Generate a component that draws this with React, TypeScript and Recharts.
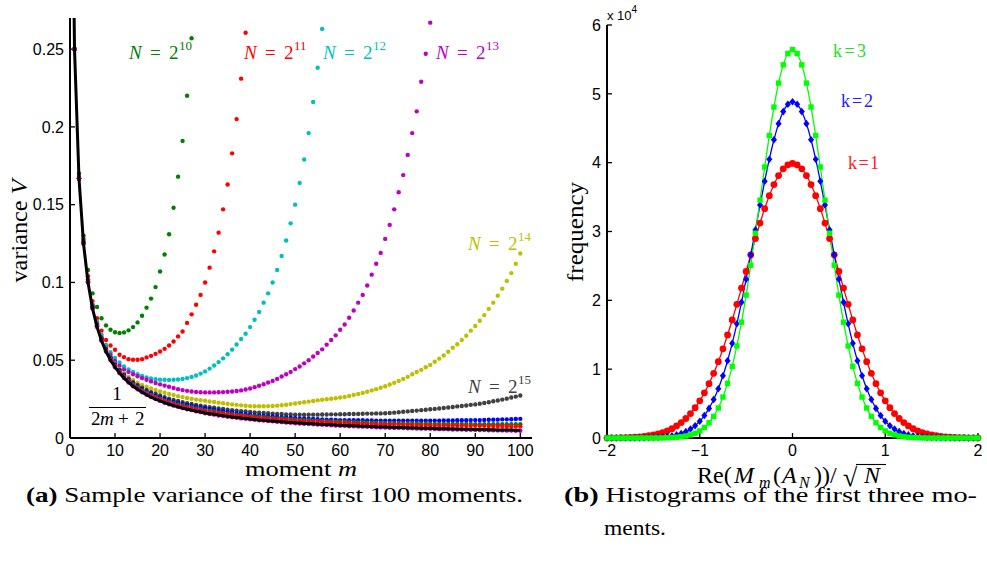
import React from 'react';
import { ComposedChart, Line, Scatter, XAxis, YAxis } from 'recharts';

// ---------- (a) sample variance, one value per moment m = 1, 2, 3, ...
// the black bound 1/(2m+2), m = 0..100
const bound = [
  .5000, .2500, .1667, .1250, .1000, .0833, .0714, .0625, .0556, .0500,
  .0455, .0417, .0385, .0357, .0333, .0313, .0294, .0278, .0263, .0250,
  .0238, .0227, .0217, .0208, .0200, .0192, .0185, .0179, .0172, .0167,
  .0161, .0156, .0152, .0147, .0143, .0139, .0135, .0132, .0128, .0125,
  .0122, .0119, .0116, .0114, .0111, .0109, .0106, .0104, .0102, .0100,
  .0098, .0096, .0094, .0093, .0091, .0089, .0088, .0086, .0085, .0083,
  .0082, .0081, .0079, .0078, .0077, .0076, .0075, .0074, .0072, .0071,
  .0070, .0069, .0068, .0068, .0067, .0066, .0065, .0064, .0063, .0063,
  .0062, .0061, .0060, .0060, .0059, .0058, .0058, .0057, .0056, .0056,
  .0055, .0054, .0054, .0053, .0053, .0052, .0052, .0051, .0051, .0050,
  .0050,
];

const var2e10 = [
  .250, .170, .130, .108, .093, .0842, .077, .0724, .0696, .068,
  .0675, .0679, .0692, .0713, .0743, .0786, .0838, .0896, .097, .107,
  .118, .131, .148, .168, .191, .220, .257,
];

const var2e11 = [
  .250, .168, .128, .104, .088, .077, .069, .063, .0595, .0567,
  .0535, .052, .0507, .0503, .0503, .0507, .0518, .0528, .0541, .0556,
  .0573, .0595, .062, .0653, .0685, .074, .0795, .0857, .092, .100,
  .1095, .120, .132, .147, .163, .183, .205, .231, .2605,
];

const var2e12 = [
  .250, .167, .127, .102, .086, .075, .0665, .060, .0552, .0515,
  .0485, .046, .044, .0424, .041, .0399, .039, .0383, .0378, .0375,
  .0374, .0373, .0374, .0376, .0379, .0385, .0392, .0402, .0414, .0428,
  .0446, .0466, .0488, .0512, .0539, .0568, .0601, .0636, .067, .0713,
  .076, .081, .087, .093, .100, .108, .117, .127, .138, .150,
  .164, .179, .196, .216, .238, .263,
];

const var2e13 = [
  .250, .167, .1265, .1018, .0853, .0737, .0648, .058, .0535, .0495,
  .0465, .044, .0425, .041, .0397, .0385, .0374, .0364, .0354, .0345,
  .0337, .0329, .0321, .0314, .0308, .0303, .0299, .0296, .0294, .0293,
  .0293, .0293, .0294, .0295, .0297, .0299, .0302, .0306, .0312, .0318,
  .0327, .0336, .0346, .0357, .0367, .038, .0395, .041, .0425, .0443,
  .046, .048, .050, .0524, .0546, .057, .060, .063, .066, .0696,
  .073, .0773, .082, .087, .092, .098, .105, .112, .119, .128,
  .137, .147, .158, .169, .182, .196, .210, .229, .247, .267,
];

const var2e14 = [
  .250, .1672, .1262, .1012, .0845, .0728, .064, .0575, .052, .0478,
  .0444, .0415, .0393, .0373, .0355, .0341, .0329, .0318, .0309, .0300,
  .0291, .0283, .0276, .0269, .0263, .0257, .0252, .0247, .0243, .0239,
  .0235, .0231, .0227, .0223, .0220, .0216, .0213, .0210, .0207, .0205,
  .0204, .0204, .0204, .0205, .0206, .0208, .0211, .0214, .0218, .0222,
  .0226, .0230, .0234, .0238, .0242, .0246, .0249, .0252, .0256, .0260,
  .0264, .0270, .0277, .0283, .0290, .0297, .0306, .0314, .0323, .0333,
  .0344, .0355, .0367, .0380, .0393, .0410, .0424, .0438, .0455, .0470,
  .049, .051, .053, .0554, .058, .0603, .063, .0657, .069, .072,
  .0754, .079, .083, .087, .0915, .096, .101, .106, .112, .1186,
];

const var2e15 = [
  .2500, .1670, .1256, .1009, .0845, .0728, .0641, .0574, .0519, .0475,
  .0439, .0408, .0382, .0359, .0341, .0323, .0309, .0295, .0284, .0273,
  .0263, .0253, .0245, .0238, .0230, .0224, .0219, .0212, .0208, .0203,
  .0198, .0194, .0190, .0186, .0182, .0179, .0176, .0172, .0170, .0167,
  .0165, .0162, .0161, .0159, .0157, .0155, .0154, .0152, .0151, .0150,
  .0150, .0150, .0150, .0150, .0150, .0151, .0151, .0152, .0152, .0153,
  .0153, .0154, .0154, .0155, .0156, .0157, .0157, .0158, .0158, .0159,
  .0161, .0163, .0166, .0169, .0171, .0174, .0176, .0179, .0182, .0185,
  .0187, .0190, .0193, .0196, .0199, .0203, .0206, .0209, .0213, .0216,
  .0220, .0225, .0230, .0236, .0241, .0247, .0253, .0260, .0266, .0273,
];

const var2e16 = [
  .2500, .1669, .1254, .1006, .0841, .0723, .0635, .0568, .0513, .0470,
  .0433, .0402, .0375, .0352, .0333, .0315, .0300, .0286, .0274, .0263,
  .0252, .0243, .0234, .0227, .0219, .0213, .0207, .0201, .0196, .0191,
  .0186, .0182, .0177, .0172, .0168, .0164, .0160, .0156, .0153, .0150,
  .0147, .0144, .0143, .0140, .0138, .0135, .0134, .0132, .0130, .0128,
  .0126, .0125, .0124, .0122, .0121, .0120, .0118, .0118, .0116, .0115,
  .0115, .0114, .0114, .0114, .0114, .0113, .0113, .0112, .0112, .0112,
  .0112, .0112, .0112, .0112, .0112, .0112, .0112, .0111, .0112, .0112,
  .0112, .0112, .0113, .0113, .0113, .0114, .0114, .0114, .0115, .0115,
  .0115, .0116, .0117, .0118, .0118, .0120, .0120, .0121, .0122, .0123,
];

const var2e17 = [
  .2500, .1668, .1252, .1003, .0837, .0719, .0631, .0563, .0508, .0465,
  .0427, .0396, .0369, .0345, .0326, .0307, .0291, .0277, .0264, .0253,
  .0242, .0233, .0224, .0216, .0209, .0202, .0196, .0190, .0185, .0179,
  .0174, .0170, .0165, .0161, .0157, .0153, .0150, .0146, .0143, .0140,
  .0138, .0135, .0133, .0130, .0128, .0125, .0124, .0122, .0120, .0118,
  .0116, .0114, .0114, .0112, .0110, .0109, .0107, .0107, .0105, .0104,
  .0103, .0102, .0101, .0100, .0100, .0099, .0098, .0096, .0096, .0095,
  .0095, .0094, .0095, .0094, .0094, .0093, .0093, .0092, .0093, .0092,
  .0091, .0091, .0091, .0091, .0090, .0091, .0090, .0090, .0090, .0089,
  .0089, .0089, .0089, .0089, .0089, .0089, .0088, .0089, .0088, .0088,
];

const var2e18 = [
  .2500, .1667, .1251, .1002, .0836, .0718, .0629, .0561, .0506, .0462,
  .0424, .0393, .0365, .0341, .0321, .0303, .0287, .0272, .0260, .0248,
  .0237, .0227, .0219, .0211, .0203, .0196, .0190, .0183, .0179, .0173,
  .0168, .0164, .0159, .0155, .0152, .0148, .0145, .0141, .0138, .0135,
  .0132, .0129, .0127, .0124, .0123, .0120, .0118, .0116, .0114, .0112,
  .0110, .0108, .0107, .0105, .0104, .0103, .0101, .0100, .0098, .0097,
  .0097, .0095, .0094, .0093, .0092, .0091, .0090, .0089, .0088, .0087,
  .0087, .0086, .0086, .0085, .0085, .0084, .0083, .0083, .0083, .0082,
  .0081, .0081, .0081, .0080, .0080, .0080, .0079, .0079, .0079, .0078,
  .0078, .0078, .0077, .0077, .0077, .0077, .0076, .0076, .0075, .0075,
];

const var2e20 = [
  .2500, .1667, .1250, .1000, .0833, .0714, .0625, .0556, .0500, .0455,
  .0417, .0385, .0357, .0333, .0313, .0294, .0278, .0263, .0250, .0238,
  .0227, .0217, .0208, .0200, .0192, .0185, .0179, .0172, .0167, .0159,
  .0154, .0150, .0145, .0141, .0137, .0133, .0130, .0126, .0123, .0120,
  .0117, .0114, .0112, .0109, .0107, .0104, .0102, .0100, .0098, .0095,
  .0093, .0091, .0090, .0088, .0086, .0085, .0083, .0082, .0080, .0079,
  .0078, .0076, .0075, .0074, .0073, .0072, .0071, .0069, .0068, .0067,
  .0066, .0065, .0065, .0064, .0063, .0062, .0061, .0060, .0060, .0059,
  .0058, .0057, .0057, .0056, .0055, .0055, .0054, .0053, .0053, .0052,
  .0051, .0051, .0050, .0050, .0049, .0049, .0048, .0048, .0047, .0047,
];

const momentTicks = [0, 10, 20, 30, 40, 50, 60, 70, 80, 90, 100];
const varianceTicks = [0, 0.05, 0.1, 0.15, 0.2, 0.25];
const labelExps = ['10', '11', '12', '13', '14', '15'];

// ---------- (b) histograms, counts in units of 10^4
const binCenters = [
  -2, -1.95, -1.9, -1.85, -1.8, -1.75, -1.7, -1.65, -1.6, -1.55,
  -1.5, -1.45, -1.4, -1.35, -1.3, -1.25, -1.2, -1.15, -1.1, -1.05,
  -1, -0.95, -0.9, -0.85, -0.8, -0.75, -0.7, -0.65, -0.6, -0.55,
  -0.5, -0.45, -0.4, -0.35, -0.3, -0.25, -0.2, -0.15, -0.1, -0.05,
  0,
  0.05, 0.1, 0.15, 0.2, 0.25, 0.3, 0.35, 0.4, 0.45, 0.5,
  0.55, 0.6, 0.65, 0.7, 0.75, 0.8, 0.85, 0.9, 0.95, 1,
  1.05, 1.1, 1.15, 1.2, 1.25, 1.3, 1.35, 1.4, 1.45, 1.5,
  1.55, 1.6, 1.65, 1.7, 1.75, 1.8, 1.85, 1.9, 1.95, 2,
];

const countK1 = [
  .001, .002, .003, .004, .006, .009, .012, .017, .024, .033,
  .044, .059, .079, .104, .136, .175, .224, .283, .355, .440,
  .540, .656, .789, .940, 1.109, 1.295, 1.497, 1.714, 1.942, 2.178,
  2.420, 2.661, 2.897, 3.122, 3.332, 3.520, 3.682, 3.813, 3.910, 3.969,
  3.989,
  3.969, 3.910, 3.813, 3.682, 3.520, 3.332, 3.122, 2.897, 2.661, 2.420,
  2.178, 1.942, 1.714, 1.497, 1.295, 1.109, .940, .789, .656, .540,
  .440, .355, .283, .224, .175, .136, .104, .079, .059, .044,
  .033, .024, .017, .012, .009, .006, .004, .003, .002, .001,
];

const countK2 = [
  0, 0, 0, 0, 0, 0, .001, .001, .002, .004,
  .006, .009, .014, .021, .031, .045, .065, .092, .130, .179,
  .243, .326, .430, .559, .716, .904, 1.123, 1.375, 1.659, 1.972,
  2.308, 2.661, 3.023, 3.384, 3.730, 4.050, 4.333, 4.567, 4.742, 4.849,
  4.886,
  4.849, 4.742, 4.567, 4.333, 4.050, 3.730, 3.384, 3.023, 2.661, 2.308,
  1.972, 1.659, 1.375, 1.123, .904, .716, .559, .430, .326, .243,
  .179, .130, .092, .065, .045, .031, .021, .014, .009, .006,
  .004, .002, .001, .001, 0, 0, 0, 0, 0, 0,
];

const countK3 = [
  0, 0, 0, 0, 0, 0, 0, 0, 0, 0,
  0, .001, .002, .004, .007, .011, .018, .028, .045, .069,
  .103, .153, .221, .314, .436, .595, .795, 1.041, 1.337, 1.683,
  2.076, 2.510, 2.975, 3.456, 3.936, 4.394, 4.808, 5.156, 5.421, 5.586,
  5.642,
  5.586, 5.421, 5.156, 4.808, 4.394, 3.936, 3.456, 2.975, 2.510, 2.076,
  1.683, 1.337, 1.041, .795, .595, .436, .314, .221, .153, .103,
  .069, .045, .028, .018, .011, .007, .004, .002, .001, 0,
  0, 0, 0, 0, 0, 0, 0, 0, 0, 0,
];

const reTicks = [-2, -1, 0, 1, 2];
const freqTicks = [0, 1, 2, 3, 4, 5, 6];

const serif = "'Liberation Serif', 'Times New Roman', Times, 'DejaVu Serif', serif";
const sans = "'Liberation Sans', Arial, Helvetica, sans-serif";

const C = {
  green: '#008000',
  red: '#ff0000',
  cyan: '#00bfbf',
  magenta: '#bf00bf',
  yellow: '#bfbf00',
  gray: '#404040',
  blue: '#0000ff',
  lime: '#00ff00',
};

const byMoment = (vals: number[], first = 1) => vals.map((y, i) => ({ x: i + first, y }));
const byBin = (vals: number[]) => vals.map((y, i) => ({ x: binCenters[i], y }));

const varianceSeries = [
  { id: '2e10', color: C.green, values: var2e10 },
  { id: '2e11', color: C.red, values: var2e11 },
  { id: '2e12', color: C.cyan, values: var2e12 },
  { id: '2e13', color: C.magenta, values: var2e13 },
  { id: '2e14', color: C.yellow, values: var2e14 },
  { id: '2e15', color: C.gray, values: var2e15 },
  { id: '2e16', color: C.blue, values: var2e16 },
  { id: '2e17', color: C.green, values: var2e17 },
  { id: '2e18', color: C.red, values: var2e18 },
  { id: '2e20', color: C.magenta, values: var2e20 },
];

const axisLine = { stroke: '#000', strokeWidth: 2 };
const tickLine = { stroke: '#000', strokeWidth: 1.3 };
const tickFont = { fontSize: 16, fill: '#000', style: { fontFamily: sans } };
const minus = (v: number) => String(v).replace('-', '\u2212');

function smallDot(color: string) {
  return (p: any) => <circle cx={p.cx} cy={p.cy} r={2.2} fill={color} />;
}

function VarianceChart() {
  return (
    <ComposedChart width={560} height={470} margin={{ top: 18, right: 28, bottom: 0, left: 0 }}>
      <XAxis
        type="number"
        dataKey="x"
        domain={[0, 102.6]}
        ticks={momentTicks}
        interval={0}
        height={32}
        tickSize={-5}
        tickMargin={12}
        axisLine={axisLine}
        tickLine={tickLine}
        tick={tickFont}
        allowDataOverflow
      />
      <YAxis
        type="number"
        dataKey="y"
        domain={[0, 0.27]}
        ticks={varianceTicks}
        interval={0}
        width={70}
        tickSize={-5}
        tickMargin={11}
        axisLine={axisLine}
        tickLine={tickLine}
        tick={tickFont}
        allowDataOverflow
      />
      {varianceSeries.map((s) => (
        <Scatter
          key={s.id}
          data={byMoment(s.values)}
          dataKey="y"
          fill={s.color}
          shape={smallDot(s.color)}
          isAnimationActive={false}
        />
      ))}
      <Scatter
        data={byMoment(bound, 0)}
        dataKey="y"
        fill="#000"
        line={{ stroke: '#000', strokeWidth: 3 }}
        lineType="joint"
        shape={() => <g />}
        isAnimationActive={false}
      />
    </ComposedChart>
  );
}

function circleDot(p: any) {
  return <circle key={`c${p.index}`} cx={p.cx} cy={p.cy} r={3.4} fill={C.red} />;
}
function diamondDot(p: any) {
  const s = 3.8;
  return (
    <path
      key={`d${p.index}`}
      d={`M${p.cx},${p.cy - s}L${p.cx + s * 0.8},${p.cy}L${p.cx},${p.cy + s}L${p.cx - s * 0.8},${p.cy}Z`}
      fill={C.blue}
    />
  );
}
function squareDot(p: any) {
  const s = 2.7;
  return <rect key={`s${p.index}`} x={p.cx - s} y={p.cy - s} width={2 * s} height={2 * s} fill={C.lime} />;
}

function HistogramChart() {
  return (
    <ComposedChart width={447} height={470} margin={{ top: 25, right: 9, bottom: 0, left: 0 }}>
      <XAxis
        type="number"
        dataKey="x"
        domain={[-2, 2]}
        ticks={reTicks}
        interval={0}
        height={32}
        tickSize={-5}
        tickMargin={12}
        axisLine={axisLine}
        tickLine={tickLine}
        tick={tickFont}
        tickFormatter={minus}
      />
      <YAxis
        type="number"
        dataKey="y"
        domain={[0, 6]}
        ticks={freqTicks}
        interval={0}
        width={67}
        tickSize={-5}
        tickMargin={11}
        axisLine={axisLine}
        tickLine={tickLine}
        tick={tickFont}
      />
      <Line data={byBin(countK1)} dataKey="y" type="monotone" stroke={C.red} strokeWidth={1.3} dot={circleDot} isAnimationActive={false} />
      <Line data={byBin(countK2)} dataKey="y" type="monotone" stroke={C.blue} strokeWidth={1.3} dot={diamondDot} isAnimationActive={false} />
      <Line data={byBin(countK3)} dataKey="y" type="monotone" stroke={C.lime} strokeWidth={1.3} dot={squareDot} isAnimationActive={false} />
    </ComposedChart>
  );
}

function NLabel({ x, y, color, exp }: { x: number; y: number; color: string; exp: string }) {
  return (
    <text y={y} fill={color} fontSize={19}>
      <tspan x={x} fontStyle="italic">N</tspan>
      <tspan x={x + 21}>=</tspan>
      <tspan x={x + 40}>2</tspan>
      <tspan x={x + 50} dy={-9} fontSize={13}>{exp}</tspan>
    </text>
  );
}

function Overlay() {
  const labelPos = [
    { x: 129, y: 59, color: C.green },
    { x: 244, y: 59, color: C.red },
    { x: 323, y: 59, color: C.cyan },
    { x: 436, y: 59, color: C.magenta },
    { x: 468, y: 250, color: C.yellow },
    { x: 468, y: 393, color: C.gray },
  ];
  const stretch = { lengthAdjust: 'spacingAndGlyphs' as const };
  return (
    <svg
      width={987}
      height={564}
      style={{ position: 'absolute', left: 0, top: 0, pointerEvents: 'none', fontFamily: serif }}
    >
      {labelPos.map((p, i) => (
        <NLabel key={labelExps[i]} x={p.x} y={p.y} color={p.color} exp={labelExps[i]} />
      ))}

      {/* 1/(2m+2) */}
      <text x={117} y={400} textAnchor="middle" fontSize={19}>1</text>
      <line x1={89} x2={146} y1={407.5} y2={407.5} stroke="#000" strokeWidth={1} />
      <text y={425} fontSize={19}>
        <tspan x={91}>2</tspan>
        <tspan x={100} fontStyle="italic">m</tspan>
        <tspan x={118}>+</tspan>
        <tspan x={135}>2</tspan>
      </text>

      {/* axis titles */}
      <text transform="translate(27,231) rotate(-90)" textAnchor="middle" fontSize={23} textLength={103} {...stretch}>
        variance <tspan fontStyle="italic">V</tspan>
      </text>
      <text x={301} y={476} textAnchor="middle" fontSize={22} textLength={112} {...stretch}>
        moment <tspan fontStyle="italic">m</tspan>
      </text>
      <text transform="translate(583,232) rotate(-90)" textAnchor="middle" fontSize={23} textLength={100} {...stretch}>
        frequency
      </text>
      <text fontSize={24}>
        <tspan x={697} y={483}>Re(</tspan>
        <tspan x={734} y={483} fontStyle="italic">M</tspan>
        <tspan x={759} y={487.5} fontSize={16} fontStyle="italic">m</tspan>
        <tspan x={773} y={483}>(</tspan>
        <tspan x={782} y={483} fontStyle="italic">A</tspan>
        <tspan x={799} y={487.5} fontSize={16} fontStyle="italic">N</tspan>
        <tspan x={814} y={483}>))/</tspan>
        <tspan x={843} y={486} fontSize={26}>{'\u221A'}</tspan>
        <tspan x={864} y={483} fontStyle="italic">N</tspan>
      </text>
      <line x1={856} x2={886} y1={464.5} y2={464.5} stroke="#000" strokeWidth={1.1} />

      {/* multiplier and k labels */}
      <text x={607} y={20} fontSize={13} style={{ fontFamily: sans }}>
        x 10<tspan dy={-7} fontSize={10}>4</tspan>
      </text>
      <text x={833} y={57} fontSize={18} fill="#22e022" textLength={33}>k=3</text>
      <text x={841} y={107} fontSize={18} fill="#2020ff" textLength={32}>k=2</text>
      <text x={848} y={169} fontSize={18} fill="#ff2020" textLength={31}>k=1</text>

      {/* captions */}
      <text x={26} y={502} fontSize={21} textLength={497} {...stretch}>
        <tspan fontWeight="bold">(a)</tspan> Sample variance of the first 100 moments.
      </text>
      <text x={564} y={502} fontSize={21} textLength={413} {...stretch}>
        <tspan fontWeight="bold">(b)</tspan> Histograms of the first three mo-
      </text>
      <text x={604} y={535} fontSize={21} textLength={62} {...stretch}>
        ments.
      </text>
    </svg>
  );
}

export default function App() {
  return (
    <div style={{ position: 'absolute', left: 0, top: 0, width: 987, height: 564, background: '#fff' }}>
      <div style={{ position: 'absolute', left: 0, top: 0 }}>
        <VarianceChart />
      </div>
      <div style={{ position: 'absolute', left: 540, top: 0 }}>
        <HistogramChart />
      </div>
      <Overlay />
    </div>
  );
}
